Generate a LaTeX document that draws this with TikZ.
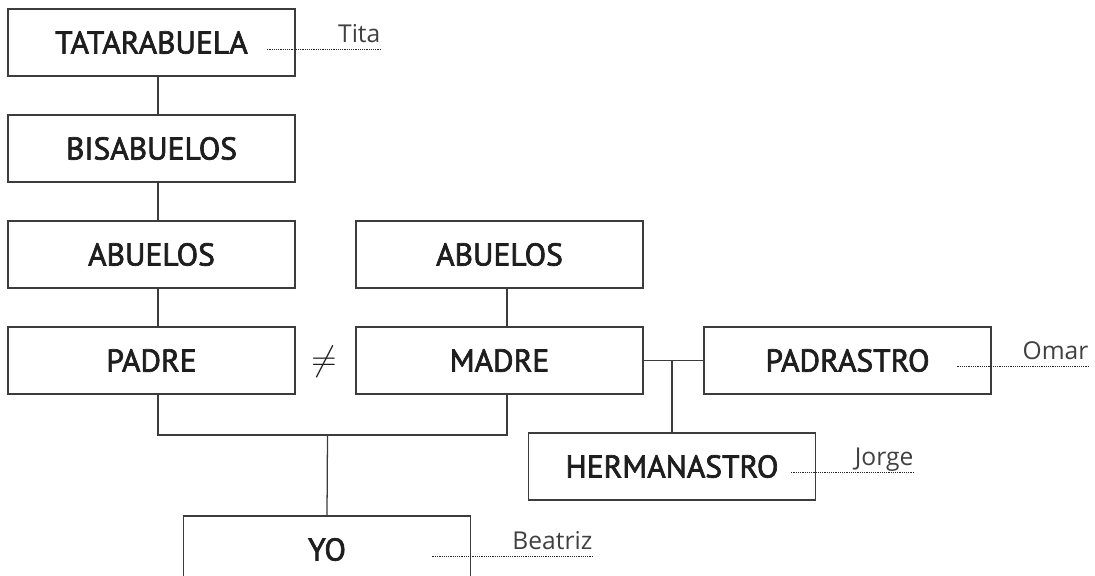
\documentclass[tikz,border=0pt]{standalone}
\usepackage{fontspec}
\setmainfont{PT Sans}
\newfontfamily\labelfont{PT Sans}[FakeBold=2.2]
\newfontfamily\namefont{Open Sans}
\usetikzlibrary{positioning}

\definecolor{ink}{HTML}{1E1E1E}
\definecolor{rule}{HTML}{3C3C3C}

\begin{document}
\begin{tikzpicture}[
	x=0.025cm, y=-0.025cm,
	line width=0.9pt,
	box/.style={draw=rule,minimum width=7.175cm,minimum height=1.675cm,inner sep=0,text=ink,font=\labelfont\fontsize{22.4}{26}\selectfont},
	namelbl/.style={anchor=south east,inner sep=0,text depth=0.15cm,text=black!75,font=\namefont\fontsize{17.5}{20}\selectfont},
	leader/.style={draw=black!85,line width=0.65pt,dash pattern=on 0.6pt off 0.7pt}
	]
	\useasboundingbox (0, 0) rectangle (1095, 575);
	\node [box] (tata) at (151.5, 42.5) {TATARABUELA};
	\node [box] (bisa) at (151.5, 148.5) {BISABUELOS};
	\node [box] (abuP) at (151.5, 254.5) {ABUELOS};
	\node [box] (abuM) at (499.5, 254.5) {ABUELOS};
	\node [box] (padre) at (151.5, 360.5) {PADRE};
	\node [box] (madre) at (499.5, 360.5) {MADRE};
	\node [box] (padrastro) at (847.5, 360.5) {PADRASTRO};
	\node [box] (herman) at (672, 466.5) {HERMANASTRO};
	\node [box] (yo) at (327, 549.5) {YO};
	\node [text=ink,font=\fontsize{25}{28}\selectfont] (neq) at (324, 362) {$\neq$};
	% lines between generations
	\draw[rule] ([xshift=0.16cm]tata.south) -- ([xshift=0.16cm]bisa.north);
	\draw[rule] ([xshift=0.16cm]bisa.south) -- ([xshift=0.16cm]abuP.north);
	\draw[rule] ([xshift=0.16cm]abuP.south) -- ([xshift=0.16cm]padre.north);
	\draw[rule] ([xshift=0.19cm]abuM.south) -- ([xshift=0.19cm]madre.north);
	\coordinate (j) at (327.5, 435);
	\draw[rule] ([xshift=0.16cm]padre.south) |- (j) -| ([xshift=0.19cm]madre.south);
	\draw[rule] (j) -- (yo.north);
	\draw[rule] (madre.east) -- (padrastro.west);
	\draw[rule] (herman.north) -- (herman.north |- madre.east);
	% names
	\node [namelbl] (tita) at (381, 49) {Tita};
	\draw[leader] (tita.south east) -- ++(-114, 0);
	\node [namelbl] (omar) at (1089, 366) {Omar};
	\draw[leader] (omar.south east) -- ++(-133, 0);
	\node [namelbl] (jorge) at (914, 472) {Jorge};
	\draw[leader] (jorge.south east) -- ++(-123, 0);
	\node [namelbl] (beatriz) at (593, 556) {Beatriz};
	\draw[leader] (beatriz.south east) -- ++(-161, 0);
\end{tikzpicture}
\end{document}
